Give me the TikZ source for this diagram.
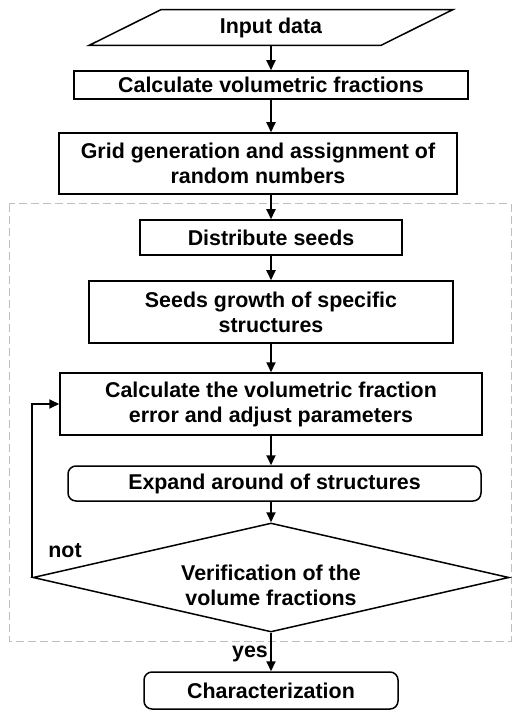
\documentclass[tikz,border=0pt]{standalone}
\usepackage{fontspec}
\setmainfont{Liberation Sans}
\usetikzlibrary{arrows.meta,shapes.geometric}

\begin{document}
\begin{tikzpicture}[
  x=0.5pt, y=-0.5pt,
  every node/.style={font=\bfseries\fontsize{10.7}{12.5}\selectfont},
  box/.style={draw, line width=0.75pt, align=center, inner sep=0pt},
  roundbox/.style={box, rounded corners=4pt},
  decision/.style={diamond, draw, line width=0.75pt, align=center, inner sep=0pt,
                   aspect=4.37, minimum width=238pt, minimum height=54.5pt},
  arrow/.style={-{Triangle[length=5pt,width=4.5pt]}, line width=1pt},
  frame/.style={draw=black!25, dash pattern=on 4pt off 2pt, line width=0.5pt}
]
\useasboundingbox (0,0) rectangle (512,710);
\draw[frame] (9,204) rectangle (511,641);
\node[align=center, inner sep=0pt, minimum width=145.5pt, minimum height=17.5pt] (input) at (271,27.5) {Input data};
\draw[line width=0.75pt] ([xshift=18pt]input.north west) -- ([xshift=18pt]input.north east)
  -- ([xshift=-18pt]input.south east) -- ([xshift=-18pt]input.south west) -- cycle;
\node[box, minimum width=197pt, minimum height=14pt] (calc) at (271,85) {Calculate volumetric fractions};
\node[box, minimum width=199pt, minimum height=30.5pt] (grid) at (258,163.5) {Grid generation and assignment of\\random numbers};
\node[box, minimum width=131pt, minimum height=17.5pt] (distribute) at (271,237.5) {Distribute seeds};
\node[box, minimum width=182pt, minimum height=31pt] (growth) at (271,312) {Seeds growth of specific\\structures};
\node[box, minimum width=211pt, minimum height=31pt] (error) at (271,404) {Calculate the volumetric fraction\\error and adjust parameters};
\node[roundbox, minimum width=206.5pt, minimum height=17.5pt] (expand) at (274.5,483.5) {Expand around of structures};
\node[decision] (verify) at (271,577.5) {\rule{0pt}{16pt}Verification of the\\volume fractions};
\node[roundbox, minimum width=127pt, minimum height=18.5pt] (charact) at (271,690.5) {Characterization};
\node (notlbl) at (65,551) {not};
\node (yeslbl) at (250,654) {yes};
\draw[arrow] (input) -- (calc);
\draw[arrow] (calc) -- (calc |- grid.north);
\draw[arrow] (grid.south -| distribute) -- (distribute);
\draw[arrow] (distribute) -- (growth);
\draw[arrow] (growth) -- (error);
\draw[arrow] (error) -- (error |- expand.north);
\draw[arrow] (expand.south -| verify) -- (verify);
\draw[arrow] (verify.west) |- (error.west);
\draw[arrow] (verify) -- (charact);
\end{tikzpicture}
\end{document}
